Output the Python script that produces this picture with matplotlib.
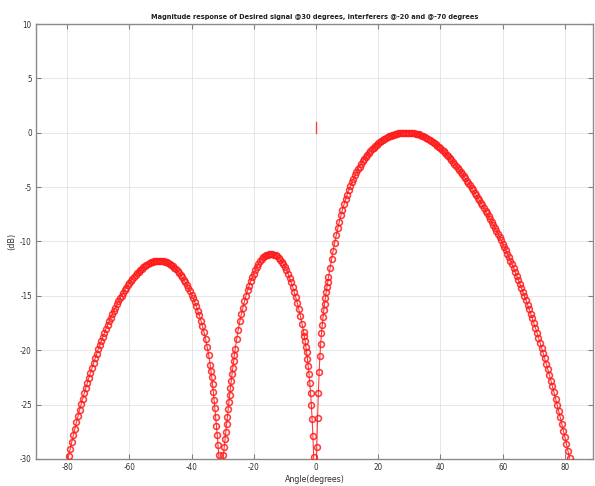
import matplotlib
matplotlib.use('Agg')
import matplotlib.pyplot as plt
import numpy as np

plt.rcParams['font.family'] = ['Liberation Sans Narrow', 'DejaVu Sans']
plt.rcParams['font.stretch'] = 'condensed'
plt.rcParams['axes.unicode_minus'] = False

# --- data (angle in degrees, response in dB) ---
# side lobe left of the -30 deg null
angle_a = [-80.5, -80.0, -79.5, -79.0, -78.5, -78.0, -77.5, -77.0, -76.5, -76.0,
           -75.5, -75.0, -74.5, -74.0, -73.5, -73.0, -72.5, -72.0, -71.5, -71.0,
           -70.5, -70.0, -69.5, -69.0, -68.5, -68.0, -67.5, -67.0, -66.5, -66.0,
           -65.5, -65.0, -64.5, -64.0, -63.5, -63.0, -62.5, -62.0, -61.5, -61.0,
           -60.5, -60.0, -59.5, -59.0, -58.5, -58.0, -57.5, -57.0, -56.5, -56.0,
           -55.5, -55.0, -54.5, -54.0, -53.5, -53.0, -52.5, -52.0, -51.5, -51.0,
           -50.5, -50.0, -49.5, -49.0, -48.5, -48.0, -47.5, -47.0, -46.5, -46.0,
           -45.5, -45.0, -44.5, -44.0, -43.5, -43.0, -42.5, -42.0, -41.5, -41.0,
           -40.5, -40.0, -39.5, -39.0, -38.5, -38.0, -37.5, -37.0, -36.5, -36.0,
           -35.5, -35.0, -34.5, -34.0,
           -33.75, -33.5, -33.25, -33.0, -32.75, -32.5, -32.25, -32.0, -31.75,
           -31.5, -31.25, -31.0, -30.75, -30.5]
db_a = [-31.05, -30.36, -29.7, -29.05, -28.42, -27.8, -27.2, -26.62, -26.05, -25.5,
        -24.98, -24.47, -23.97, -23.48, -23.0, -22.53, -22.07, -21.62, -21.18, -20.75,
        -20.33, -19.92, -19.52, -19.13, -18.75, -18.38, -18.02, -17.67, -17.33, -17.0,
        -16.68, -16.37, -16.07, -15.78, -15.5, -15.23, -14.97, -14.72, -14.48, -14.25,
        -14.03, -13.82, -13.62, -13.43, -13.25, -13.08, -12.92, -12.77, -12.63, -12.5,
        -12.38, -12.27, -12.17, -12.08, -12.0, -11.93, -11.87, -11.82, -11.79, -11.76,
        -11.75, -11.75, -11.77, -11.8, -11.85, -11.91, -11.98, -12.07, -12.17, -12.29,
        -12.42, -12.56, -12.72, -12.9, -13.09, -13.3, -13.52, -13.76, -14.01, -14.28,
        -14.57, -14.88, -15.21, -15.56, -15.94, -16.35, -16.79, -17.27, -17.79, -18.36,
        -18.98, -19.66, -20.45, -21.35,
        -21.9, -22.5, -23.15, -23.85, -24.6, -25.35, -26.15, -26.95, -27.8,
        -28.7, -29.65, -30.8, -32.8, -38.0]

# side lobe between the two nulls
angle_b = [-30.25, -30.0, -29.75, -29.5, -29.25, -29.0, -28.75, -28.5, -28.25,
           -28.0, -27.75, -27.5, -27.25, -27.0, -26.75, -26.5, -26.25, -26.0,
           -25.5, -25.0, -24.5, -24.0, -23.5, -23.0, -22.5, -22.0, -21.5, -21.0,
           -20.5, -20.0, -19.5, -19.0, -18.5, -18.0, -17.5, -17.0, -16.5, -16.0,
           -15.5, -15.0, -14.5, -14.0, -13.5, -13.0, -12.5, -12.0, -11.5, -11.0,
           -10.5, -10.0, -9.5, -9.0, -8.5, -8.0, -7.5, -7.0, -6.5, -6.0,
           -5.5, -5.0, -4.5, -4.0,
           -3.75, -3.5, -3.25, -3.0, -2.75, -2.5, -2.25, -2.0, -1.75, -1.5,
           -1.25, -1.0, -0.75, -0.5, -0.25]
db_b = [-32.0, -30.5, -29.65, -28.9, -28.2, -27.5, -26.8, -26.1, -25.4,
        -24.75, -24.1, -23.45, -22.82, -22.2, -21.6, -21.02, -20.46, -19.92,
        -18.95, -18.1, -17.35, -16.68, -16.07, -15.5, -14.98, -14.5, -14.06, -13.66,
        -13.29, -12.95, -12.62, -12.32, -12.05, -11.82, -11.63, -11.47, -11.35, -11.26,
        -11.2, -11.16, -11.15, -11.16, -11.2, -11.27, -11.37, -11.5, -11.66, -11.85,
        -12.07, -12.32, -12.62, -12.95, -13.33, -13.74, -14.18, -14.65, -15.15, -15.68,
        -16.25, -16.87, -17.55, -18.3,
        -18.72, -19.17, -19.66, -20.2, -20.8, -21.45, -22.18, -23.0, -23.95, -25.05,
        -26.35, -27.9, -29.8, -32.5, -37.0]

# main lobe towards the desired signal
angle_c = [0.0, 0.25, 0.5, 0.75, 1.0, 1.25, 1.5, 1.75, 2.0, 2.25, 2.5, 2.75,
           3.0, 3.25, 3.5, 3.75, 4.0,
           4.5, 5.0, 5.5, 6.0, 6.5, 7.0, 7.5, 8.0, 8.5, 9.0, 9.5, 10.0,
           10.5, 11.0, 11.5, 12.0, 12.5, 13.0, 13.5, 14.0, 14.5, 15.0, 15.5, 16.0,
           16.5, 17.0, 17.5, 18.0, 18.5, 19.0, 19.5, 20.0, 20.5, 21.0, 21.5, 22.0,
           22.5, 23.0, 23.5, 24.0, 24.5, 25.0, 25.5, 26.0, 26.5, 27.0, 27.5, 28.0,
           28.5, 29.0, 29.5, 30.0, 30.5, 31.0, 31.5, 32.0, 32.5, 33.0, 33.5, 34.0,
           34.5, 35.0, 35.5, 36.0, 36.5, 37.0, 37.5, 38.0, 38.5, 39.0, 39.5, 40.0,
           40.5, 41.0, 41.5, 42.0, 42.5, 43.0, 43.5, 44.0, 44.5, 45.0, 45.5, 46.0,
           46.5, 47.0, 47.5, 48.0, 48.5, 49.0, 49.5, 50.0, 50.5, 51.0, 51.5, 52.0,
           52.5, 53.0, 53.5, 54.0, 54.5, 55.0, 55.5, 56.0, 56.5, 57.0, 57.5, 58.0,
           58.5, 59.0, 59.5, 60.0, 60.5, 61.0, 61.5, 62.0, 62.5, 63.0, 63.5, 64.0,
           64.5, 65.0, 65.5, 66.0, 66.5, 67.0, 67.5, 68.0, 68.5, 69.0, 69.5, 70.0,
           70.5, 71.0, 71.5, 72.0, 72.5, 73.0, 73.5, 74.0, 74.5, 75.0, 75.5, 76.0,
           76.5, 77.0, 77.5, 78.0, 78.5, 79.0, 79.5, 80.0, 80.5, 81.0, 81.5, 82.0,
           82.5]
db_c = [-34.0, -28.9, -26.2, -23.9, -22.0, -20.55, -19.4, -18.45, -17.65, -16.95,
        -16.32, -15.74, -15.2, -14.69, -14.2, -13.74, -13.3,
        -12.45, -11.65, -10.85, -10.12, -9.43, -8.78, -8.17, -7.6, -7.07, -6.58,
        -6.12, -5.69,
        -5.29, -4.92, -4.57, -4.24, -3.93, -3.64, -3.37, -3.11, -2.87, -2.64, -2.42, -2.22,
        -2.03, -1.85, -1.68, -1.52, -1.37, -1.23, -1.1, -0.98, -0.87, -0.76, -0.66, -0.57,
        -0.49, -0.41, -0.34, -0.28, -0.22, -0.17, -0.13, -0.09, -0.06, -0.04, -0.02, -0.01,
        0.0, 0.0, 0.0, 0.0, -0.01, -0.03, -0.05, -0.08, -0.12, -0.16, -0.21, -0.26,
        -0.33, -0.39, -0.47, -0.55, -0.64, -0.73, -0.83, -0.94, -1.06, -1.18, -1.31, -1.44,
        -1.58, -1.72, -1.87, -2.02, -2.18, -2.34, -2.5, -2.67, -2.85, -3.03, -3.21, -3.4,
        -3.59, -3.79, -3.99, -4.2, -4.41, -4.62, -4.84, -5.06, -5.28, -5.51, -5.74, -5.97,
        -6.2, -6.44, -6.68, -6.92, -7.17, -7.42, -7.67, -7.93, -8.2, -8.47, -8.75, -9.03,
        -9.31, -9.6, -9.89, -10.19, -10.5, -10.81, -11.13, -11.45, -11.78, -12.11, -12.45, -12.8,
        -13.15, -13.51, -13.88, -14.25, -14.63, -15.02, -15.41, -15.81, -16.22, -16.64, -17.06, -17.49,
        -17.93, -18.38, -18.83, -19.29, -19.76, -20.24, -20.73, -21.23, -21.74, -22.26, -22.79, -23.33,
        -23.88, -24.44, -25.01, -25.59, -26.18, -26.78, -27.39, -28.01, -28.64, -29.28, -29.93, -30.6,
        -31.3]

# short reference mark at broadside
mark_angle = [0.0, 0.0]
mark_db = [0.0, 1.0]

angles = np.concatenate([angle_a, angle_b, angle_c])
response = np.concatenate([db_a, db_b, db_c])

fig = plt.figure(figsize=(5.95, 4.86), dpi=100)
ax = fig.add_axes([0.0605, 0.0556, 0.936, 0.895])

ax.plot(angles, response, color='#ff1a1a', lw=0.8, marker='o', ms=4.2,
        mfc='none', mec='#ff1a1a', mew=1.15, alpha=0.85, zorder=3)
ax.plot(mark_angle, mark_db, color='#ff4040', lw=1.0, zorder=3)

ax.set_xlim(-90, 89)
ax.set_ylim(-30, 10)
ax.set_xticks(np.arange(-80, 81, 20))
ax.set_yticks(np.arange(-30, 11, 5))
ax.grid(True, color='#e3e3e3', lw=0.6)
ax.set_axisbelow(True)

ax.tick_params(direction='in', top=True, right=True, length=3.5, width=0.8,
               color='#808080', labelsize=5.8, labelcolor='#303030', pad=3)
for s in ax.spines.values():
    s.set_color('#8a8a8a')
    s.set_linewidth(1.0)

ax.set_title('Magnitude response of Desired signal @30 degrees, interferers @-20 and @-70 degrees',
             fontsize=5.3, fontweight='bold', pad=3.5, color='#202020')
ax.set_xlabel('Angle(degrees)', fontsize=6.3, labelpad=2, color='#303030')
ax.set_ylabel('(dB)', fontsize=6.5, labelpad=3, color='#303030')

fig.savefig('out.png', dpi=100)
